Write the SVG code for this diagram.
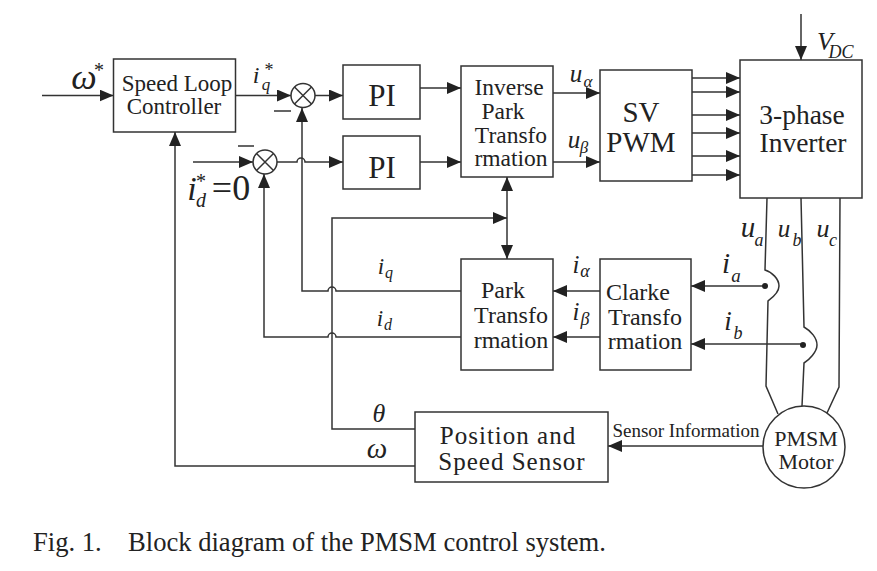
<svg xmlns="http://www.w3.org/2000/svg" width="877" height="571" viewBox="0 0 877 571">
<style>
.b{fill:#fff;stroke:#333;stroke-width:1.5}
.l{fill:none;stroke:#333;stroke-width:1.5}
text{font-family:"Liberation Serif",serif;fill:#222;text-anchor:middle}
.i{font-style:italic}
.s{text-anchor:start}
</style>
<defs>
<marker id="a" markerUnits="userSpaceOnUse" markerWidth="15" markerHeight="12" refX="14" refY="6" orient="auto-start-reverse"><path d="M0 0L14 6L0 12z" fill="#222"/></marker>
</defs>
<rect width="877" height="571" fill="#fff"/>
<g id="connectors">
<path class="l" marker-end="url(#a)" d="M42 95.500H113.500"/>
<path class="l" marker-end="url(#a)" d="M235 95.500H291"/>
<path class="l" marker-end="url(#a)" d="M315 95.500H343"/>
<path class="l" marker-end="url(#a)" d="M193 162H253"/>
<path class="l" marker-end="url(#a)" d="M277 162H297a4 4 0 0 1 8 0H343"/>
<path class="l" marker-end="url(#a)" d="M420 88H461"/>
<path class="l" marker-end="url(#a)" d="M420 162H461"/>
<path class="l" marker-end="url(#a)" d="M553 93H600"/>
<path class="l" marker-end="url(#a)" d="M553 162H600"/>
<path class="l" marker-end="url(#a)" d="M692 78H740"/>
<path class="l" marker-end="url(#a)" d="M692 92H740"/>
<path class="l" marker-end="url(#a)" d="M692 115H740"/>
<path class="l" marker-end="url(#a)" d="M692 133H740"/>
<path class="l" marker-end="url(#a)" d="M692 156H740"/>
<path class="l" marker-end="url(#a)" d="M692 175H740"/>
<path class="l" marker-end="url(#a)" d="M801 14V60"/>
<path class="l" marker-start="url(#a)" marker-end="url(#a)" d="M507 177V259"/>
<path class="l" marker-end="url(#a)" d="M415 429H332V218H507"/>
<path class="l" marker-end="url(#a)" d="M461 291H336a4 4 0 0 0 -8 0H302V108"/>
<path class="l" marker-end="url(#a)" d="M461 337H336a4 4 0 0 0 -8 0H264V174"/>
<path class="l" marker-end="url(#a)" d="M415 466H175V132"/>
<path class="l" marker-end="url(#a)" d="M600 291H553"/>
<path class="l" marker-end="url(#a)" d="M600 337H553"/>
<path class="l" marker-end="url(#a)" d="M765 286H691"/>
<path class="l" marker-end="url(#a)" d="M803 344H691"/>
<path class="l" marker-end="url(#a)" d="M763 446H608"/>
<path class="l" d="M767 198L765 270C772 272 779 279 779 286C779 293 772 298 768 301L766 386L778 414"/>
<path class="l" d="M801 198L804 327C811 331 817 338 817 345C817 352 809 360 804 363L802 406"/>
<path class="l" d="M840 198L839 387L827 413"/>
<circle cx="765" cy="286" r="3" fill="#222"/>
<circle cx="803" cy="345" r="3" fill="#222"/>
</g>
<g id="speed-loop"><rect class="b" x="113.500" y="59" width="122" height="73"/><text x="177" y="91" font-size="23">Speed Loop</text><text x="174" y="114" font-size="23">Controller</text></g>
<g id="sum1"><circle class="b" cx="303" cy="95.500" r="12"/><path class="l" d="M294.500 87L311.500 104M311.500 87L294.500 104"/></g>
<g id="sum2"><circle class="b" cx="265" cy="162" r="12"/><path class="l" d="M256.500 153.500L273.500 170.500M273.500 153.500L256.500 170.500"/></g>
<g id="pi1"><rect class="b" x="343" y="65" width="77" height="54"/><text x="382" y="106" font-size="31">PI</text></g>
<g id="pi2"><rect class="b" x="343" y="136" width="77" height="53"/><text x="382" y="178" font-size="31">PI</text></g>
<g id="inverse-park"><rect class="b" x="461" y="66" width="92" height="111"/><text x="509" y="95" font-size="23.500">Inverse</text><text x="503" y="119" font-size="23.500">Park</text><text x="511" y="143" font-size="23.500">Transfo</text><text x="511" y="166" font-size="23.500">rmation</text></g>
<g id="svpwm"><rect class="b" x="600" y="70" width="92" height="111"/><text x="641" y="122" font-size="29">SV</text><text x="641" y="152" font-size="29">PWM</text></g>
<g id="inverter"><rect class="b" x="740" y="60" width="122" height="138"/><text x="802" y="124" font-size="27.500">3-phase</text><text x="803" y="152" font-size="27.500">Inverter</text></g>
<g id="park"><rect class="b" x="461" y="259" width="92" height="111"/><text x="503" y="298" font-size="24">Park</text><text x="511" y="323" font-size="24">Transfo</text><text x="511" y="348" font-size="24">rmation</text></g>
<g id="clarke"><rect class="b" x="600" y="259" width="91" height="111"/><text x="638" y="300" font-size="24">Clarke</text><text x="645" y="325" font-size="24">Transfo</text><text x="645" y="349" font-size="24">rmation</text></g>
<g id="sensor"><rect class="b" x="415" y="412" width="193" height="70"/><text x="508" y="444" font-size="25" letter-spacing="1">Position and</text><text x="512" y="470" font-size="25" letter-spacing="1">Speed Sensor</text></g>
<g id="motor"><circle class="b" cx="804" cy="447" r="41"/><text x="806" y="446" font-size="22">PMSM</text><text x="806" y="469" font-size="22">Motor</text></g>
<g id="labels">
<text class="i" x="84" y="89" font-size="36">ω</text><text x="99" y="77" font-size="20">*</text>
<text class="i" x="256" y="83" font-size="24">i</text><text class="i" x="266" y="90" font-size="17">q</text><text x="269" y="76" font-size="18">*</text>
<path class="l" d="M274 111H291M238 146H254"/>
<text class="i" x="192" y="200" font-size="34">i</text><text class="i" x="201" y="207" font-size="20">d</text><text x="201" y="188" font-size="20">*</text><text x="231" y="200" font-size="36">=0</text>
<text class="i" x="381" y="274" font-size="23">i</text><text class="i" x="389" y="278" font-size="16">q</text>
<text class="i" x="380" y="326" font-size="23">i</text><text class="i" x="388" y="330" font-size="16">d</text>
<text class="i" x="379" y="422" font-size="26">θ</text>
<text class="i" x="377" y="458" font-size="29">ω</text>
<text class="i" x="576" y="82" font-size="25">u</text><text class="i" x="588" y="87" font-size="17">α</text>
<text class="i" x="574" y="148" font-size="25">u</text><text class="i" x="584" y="153" font-size="17">β</text>
<text class="i" x="576" y="273" font-size="25">i</text><text class="i" x="585" y="277" font-size="18">α</text>
<text class="i" x="576" y="320" font-size="25">i</text><text class="i" x="585" y="325" font-size="18">β</text>
<text class="i" x="726" y="273" font-size="29">i</text><text class="i" x="736" y="282" font-size="19">a</text>
<text class="i" x="728" y="330" font-size="27">i</text><text class="i" x="738" y="339" font-size="18">b</text>
<text class="i" x="748" y="237" font-size="29">u</text><text class="i" x="759" y="246" font-size="18">a</text>
<text class="i" x="784" y="237" font-size="25">u</text><text class="i" x="797" y="246" font-size="18">b</text>
<text class="i" x="823" y="237" font-size="26">u</text><text class="i" x="833" y="246" font-size="18">c</text>
<text class="i" x="825" y="50" font-size="26">V</text><text class="i" x="841" y="58" font-size="18">DC</text>
<text x="686" y="437" font-size="19">Sensor Information</text>
<text class="s" x="33" y="551" font-size="26.600">Fig. 1.</text>
<text class="s" x="128" y="551" font-size="26.600">Block diagram of the PMSM control system.</text>
</g>
</svg>
